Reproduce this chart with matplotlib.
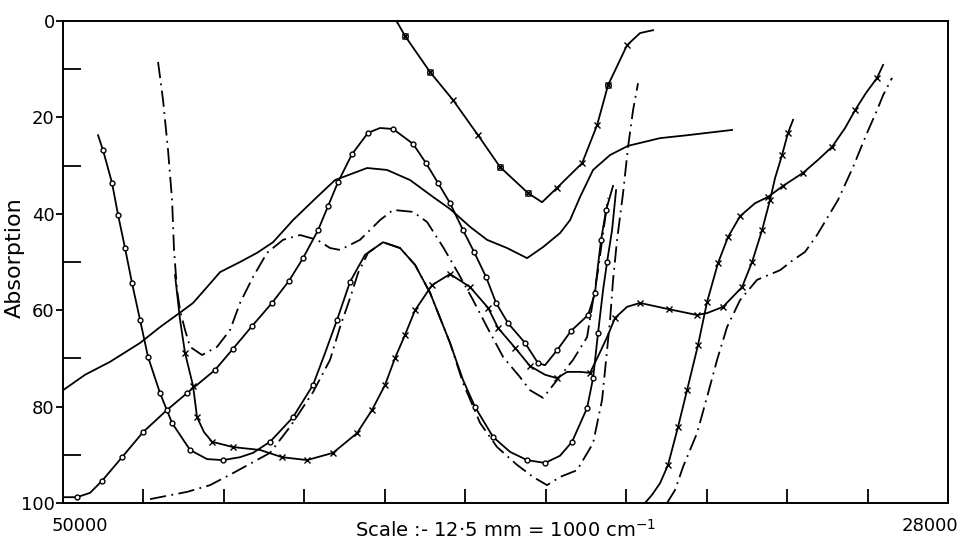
import matplotlib.pyplot as plt
import matplotlib.transforms as mtransforms
from matplotlib.ticker import FixedLocator

# wavenumber (cm-1) / absorption values

# plain solid curve
solid_wn = [50000, 49453, 48830, 48086, 47589, 47042, 46768, 46420, 46097, 45600,
            45177, 44780, 44282, 43685, 43238, 42442, 41945, 41373, 40802, 40379,
            39882, 39459, 38962, 38465, 38067, 37645, 37396, 37147, 36824, 36401,
            35954, 35158, 34487, 33368]
solid_abs = [76.6, 73.4, 70.7, 66.8, 63.5, 60.2, 58.5, 55.2, 52.1, 50.0,
             48.1, 45.9, 41.3, 36.5, 33.0, 30.5, 30.9, 33.0, 36.5, 39.0,
             42.7, 45.4, 47.1, 49.2, 46.9, 44.0, 41.3, 36.5, 30.9, 27.8,
             25.9, 24.3, 23.7, 22.6]

# top curve, o and x marks
top_wn = [41697, 41498, 40876, 40305, 39683, 39136, 38440, 38092, 37719, 37097,
          36724, 36451, 35978, 35656, 35333]
top_abs = [0.2, 3.1, 10.6, 16.4, 23.7, 30.3, 35.7, 37.6, 34.6, 29.5,
           21.6, 13.3, 5.0, 2.5, 1.9]
top_x = [1, 2, 3, 4, 5, 6, 8, 9, 10, 11, 12]
top_o = [1, 2, 5, 6, 11]

# circles, starting high on the left
a_wn = [49130, 49006, 48782, 48633, 48459, 48285, 48086, 47887, 47589, 47290,
        46843, 46420, 46022, 45600, 45277, 44854, 44282, 43785, 43487, 43188,
        42865, 42492, 42045, 41622, 41249, 40876, 40379, 40056, 39757, 39310,
        38887, 38465, 38017, 37645, 37346, 36973, 36824, 36700, 36575, 36476,
        36352, 36252]
a_abs = [23.7, 26.8, 33.6, 40.2, 47.1, 54.4, 62.0, 69.7, 77.2, 83.4,
         89.0, 90.9, 91.1, 90.5, 89.6, 87.3, 82.2, 75.5, 68.9, 62.0,
         54.1, 48.5, 45.9, 47.1, 50.6, 56.4, 66.8, 74.5, 80.1, 86.3,
         89.4, 91.1, 91.7, 90.2, 87.3, 80.3, 74.1, 64.7, 55.8, 50.0,
         43.4, 35.1]
a_o = [1, 2, 3, 4, 5, 6, 7, 8, 9, 10, 12, 15, 16, 17, 19, 20, 28, 29, 31, 32,
       34, 35, 36, 37, 39]

# circles, starting low on the left
c_wn = [50000, 49652, 49329, 49030, 48533, 48011, 47415, 46917, 46221, 45774,
        45302, 44805, 44382, 44034, 43660, 43412, 43163, 42815, 42418, 42119,
        41796, 41298, 40976, 40678, 40379, 40056, 39783, 39484, 39235, 38937,
        38514, 38191, 38017, 37719, 37371, 36948, 36774, 36724, 36625, 36500,
        36327]
c_abs = [98.8, 98.8, 97.9, 95.4, 90.5, 85.3, 80.7, 77.2, 72.4, 68.0,
         63.3, 58.5, 53.9, 49.2, 43.4, 38.4, 33.4, 27.6, 23.2, 22.2,
         22.4, 25.5, 29.5, 33.6, 37.8, 43.4, 47.9, 53.1, 58.5, 62.7,
         66.8, 71.0, 71.4, 68.3, 64.3, 61.0, 56.4, 52.3, 45.4, 39.2,
         34.2]
c_o = [1, 3, 4, 5, 6, 7, 8, 9, 10, 11, 12, 13, 14, 15, 16, 17, 18, 20, 21, 22,
       23, 24, 25, 26, 27, 28, 29, 30, 31, 33, 34, 35, 36, 38, 39]

# dash-dot from the top left
d_wn = [47638, 47514, 47390, 47290, 47241, 47166, 47091, 46967, 46843, 46544,
        46171, 45848, 45600, 45277, 44929, 44531, 44108, 43685, 43362, 43114,
        42617, 42119, 41796, 41298, 40951, 40553, 40205, 39807, 39459, 39061,
        38639, 38390, 38067, 37719, 37321, 36973, 36824, 36700, 36575, 36451]
d_abs = [8.5, 16.4, 26.8, 37.1, 47.5, 55.8, 60.0, 64.1, 67.6, 69.3,
         67.6, 64.1, 58.5, 53.1, 48.1, 45.4, 44.4, 45.4, 47.1, 47.5,
         45.4, 41.3, 39.2, 39.6, 41.7, 46.9, 51.9, 57.9, 63.5, 69.7,
         73.9, 76.6, 78.2, 74.5, 70.3, 65.6, 57.9, 51.7, 44.0, 36.7]

# dash-dot from the bottom left
b_wn = [47837, 46917, 46346, 45774, 44854, 44357, 43785, 43362, 43114, 42865,
        42666, 42418, 42045, 41622, 41249, 40876, 40379, 40056, 39633, 39210,
        38713, 38315, 37967, 37645, 37222, 36824, 36600, 36500, 36401, 36327,
        36227, 36078, 35954, 35830, 35706]
b_abs = [99.2, 97.7, 96.3, 93.8, 89.6, 84.2, 77.0, 70.3, 63.5, 57.5,
         52.3, 48.1, 45.9, 47.1, 50.6, 56.4, 66.8, 75.1, 83.4, 88.4,
         92.1, 94.6, 96.3, 94.6, 93.2, 87.6, 78.6, 70.3, 62.0, 53.7,
         45.4, 35.7, 26.1, 18.5, 12.9]

# x marks, long curve
e_wn = [47216, 47091, 46967, 46768, 46669, 46495, 46296, 45774, 45103, 44555,
        43934, 43288, 42691, 42318, 41995, 41746, 41498, 41249, 40827, 40379,
        39882, 39434, 39185, 38763, 38390, 38017, 37719, 37470, 37147, 36898,
        36650, 36476, 36277, 35978, 35656, 34935, 34239, 33990, 33592, 33120,
        32871, 32623, 32424, 32300, 32126, 31977, 31852]
e_abs = [52.7, 62.0, 68.9, 75.7, 82.2, 85.3, 87.3, 88.4, 89.0, 90.5,
         91.1, 89.6, 85.5, 80.7, 75.5, 69.9, 65.1, 60.0, 54.8, 52.5,
         55.2, 59.5, 63.7, 67.8, 71.6, 73.4, 74.1, 72.8, 72.8, 73.0,
         68.7, 65.6, 61.6, 59.3, 58.5, 59.8, 61.0, 60.6, 59.3, 55.2,
         50.0, 43.4, 37.1, 32.6, 27.8, 23.2, 20.5]
e_x = [2, 3, 4, 6, 7, 9, 10, 11, 12, 13, 14, 15, 16, 17, 18, 19, 20, 21, 22,
       23, 24, 26, 29, 32, 34, 35, 36, 38, 39, 40, 41, 42, 44, 45]

# x marks, right hand curve
f_wn = [35532, 35358, 35159, 34960, 34711, 34488, 34214, 33990, 33717, 33468,
        33170, 32797, 32474, 32101, 31603, 31230, 30883, 30559, 30311, 30037,
        29764, 29614]
f_abs = [100, 98.3, 95.9, 92.1, 84.2, 76.6, 67.2, 58.3, 50.2, 44.8,
         40.5, 37.8, 36.5, 34.2, 31.5, 28.8, 26.1, 22.2, 18.5, 14.9,
         11.8, 9.1]
f_x = [3, 4, 5, 6, 7, 8, 9, 10, 12, 13, 14, 16, 18, 20]

# dash-dot, right hand
g_wn = [34985, 34786, 34587, 34239, 33990, 33741, 33493, 33170, 32747, 32175,
        31852, 31554, 31256, 30733, 30361, 30012, 29764, 29614, 29391]
g_abs = [100, 97.3, 92.5, 85.5, 78.0, 70.3, 63.5, 57.9, 53.7, 51.7,
         49.6, 47.9, 44.4, 37.1, 30.3, 23.2, 18.5, 15.4, 11.8]

dashdot = (0, (9, 3, 1, 3))
lw = 1.3

fig = plt.figure(figsize=(9.61, 5.43), dpi=100)
ax = fig.add_axes([0.0656, 0.0737, 0.9209, 0.8876])

ax.plot(solid_wn, solid_abs, color='black', lw=lw)
ax.plot(d_wn, d_abs, color='black', lw=lw, ls=dashdot)
ax.plot(b_wn, b_abs, color='black', lw=lw, ls=dashdot)
ax.plot(g_wn, g_abs, color='black', lw=lw, ls=dashdot)

ax.plot(top_wn, top_abs, color='black', lw=lw)
ax.plot(top_wn, top_abs, ls='none', marker='x', ms=4.5, mew=1, color='black', markevery=top_x)
ax.plot(top_wn, top_abs, ls='none', marker='o', ms=4, mfc='none', mec='black', mew=1, markevery=top_o)

ax.plot(a_wn, a_abs, color='black', lw=lw, marker='o', ms=3.5, mfc='white', mec='black', mew=1, markevery=a_o)
ax.plot(c_wn, c_abs, color='black', lw=lw, marker='o', ms=3.5, mfc='white', mec='black', mew=1, markevery=c_o)
ax.plot(e_wn, e_abs, color='black', lw=lw, marker='x', ms=4.5, mew=1, markevery=e_x)
ax.plot(f_wn, f_abs, color='black', lw=lw, marker='x', ms=4.5, mew=1, markevery=f_x)

ax.set_xlim(50000, 28000)
ax.set_ylim(100, 0)

for sp in ax.spines.values():
    sp.set_linewidth(1.4)

ax.yaxis.set_major_locator(FixedLocator([0, 20, 40, 60, 80, 100]))
ax.yaxis.set_minor_locator(FixedLocator([10, 30, 50, 70, 90]))
ax.tick_params(axis='y', which='major', direction='out', length=5, width=1.3, pad=1, labelsize=13)
ax.tick_params(axis='y', which='minor', direction='in', length=13, width=1.3)

ax.set_xticks([50000, 28000], ['50000', '28000'])
ax.xaxis.set_minor_locator(FixedLocator(list(range(30000, 48001, 2000))))
ax.tick_params(axis='x', which='major', length=0, pad=10, labelsize=13)
ax.tick_params(axis='x', which='minor', direction='in', length=10, width=1.3)
for lab, dx in zip(ax.get_xticklabels(), [17, -18]):
    lab.set_transform(lab.get_transform() + mtransforms.ScaledTranslation(dx / 100, 0, fig.dpi_scale_trans))

ax.set_xlabel('Scale :- 12·5 mm = 1000 cm$^{-1}$', fontsize=14)
ax.xaxis.set_label_coords(0.50, -0.032)
ax.set_ylabel('Absorption', fontsize=16)
ax.yaxis.set_label_coords(-0.043, 0.51)

fig.savefig('out.png', dpi=100)
